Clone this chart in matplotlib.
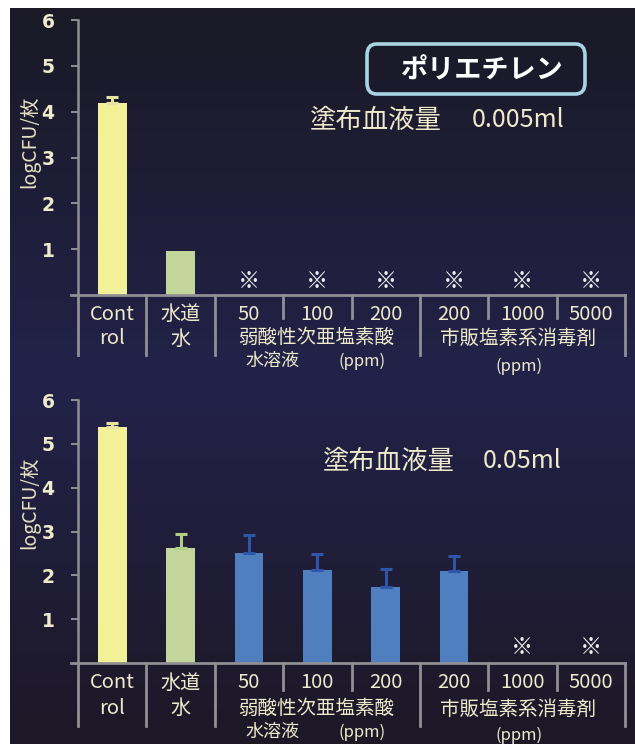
import numpy as np
import matplotlib
matplotlib.use('Agg')
import matplotlib.pyplot as plt
from matplotlib.transforms import blended_transform_factory
from matplotlib.patches import FancyBboxPatch

plt.rcParams['font.family'] = ['Noto Sans CJK JP', 'DejaVu Sans']

# ---------------- data ----------------
categories = ["Control", "水道水", "50", "100", "200", "200", "1000", "5000"]
tick_lines = [["Cont", "rol"], ["水道", "水"], ["50"], ["100"], ["200"], ["200"], ["1000"], ["5000"]]
group1_lines = ["弱酸性次亜塩素酸", "水溶液", "(ppm)"]
group2_lines = ["市販塩素系消毒剤", "(ppm)"]
material = "ポリエチレン"
vol_label = "塗布血液量"
top_volume = "0.005ml"
bottom_volume = "0.05ml"
y_label = "logCFU/枚"
nd_mark = "※"

top_mean = [4.20, 0.95, np.nan, np.nan, np.nan, np.nan, np.nan, np.nan]
top_err = [0.13, 0.0, np.nan, np.nan, np.nan, np.nan, np.nan, np.nan]
bottom_mean = [5.38, 2.63, 2.51, 2.12, 1.74, 2.10, np.nan, np.nan]
bottom_err = [0.09, 0.32, 0.41, 0.37, 0.41, 0.34, np.nan, np.nan]

bar_colors = ["#f3f197", "#c3d59b", "#4f7fbe", "#4f7fbe", "#4f7fbe", "#4f7fbe", "#4f7fbe", "#4f7fbe"]
err_colors = ["#e6e4a0", "#b3cd85", "#2f55a8", "#2f55a8", "#2f55a8", "#2f55a8", "#2f55a8", "#2f55a8"]

TXT = "#eeebcc"
GRAY = "#8f8f94"

W, H = 635, 744
fig = plt.figure(figsize=(W / 100, H / 100), dpi=100)
fig.patch.set_facecolor("white")

# background gradient (dark -> navy -> dark)
bg = fig.add_axes([10 / W, 0, 1 - 10 / W, 1 - 8 / H])
bg.set_axis_off()
py = np.arange(8, H)
stops_y = [8, 380, H]
c_top = np.array([26, 25, 37]); c_mid = np.array([35, 34, 74]); c_bot = np.array([29, 24, 38])
cols = np.zeros((len(py), 3))
for k in range(3):
    cols[:, k] = np.interp(py, stops_y, [c_top[k], c_mid[k], c_bot[k]])
img = np.repeat(cols[:, None, :], 4, axis=1) / 255.0
bg.imshow(img, aspect='auto', extent=[0, 1, 0, 1], interpolation='bilinear')
bg.set_xlim(0, 1); bg.set_ylim(0, 1)


def fy(p):
    return 1 - p / H


sep_short_pos = [2.5, 3.5, 5.5, 6.5]


def draw_panel(y6, y0, mean, err, label_row, sep_short, sep_long, nd_py, ylab_cy):
    ax = fig.add_axes([78 / W, fy(y0), 547 / W, (y0 - y6) / H])
    ax.set_facecolor("none")
    ax.set_xlim(-0.5, 7.5)
    ax.set_ylim(0, 6)
    x = np.arange(len(categories))
    vals = np.nan_to_num(np.array(mean, float))
    ax.bar(x, vals, width=0.42, color=bar_colors, edgecolor="none", zorder=3)
    for i, (m, e) in enumerate(zip(mean, err)):
        if np.isfinite(m) and np.isfinite(e) and e > 0:
            ax.errorbar(i, m, yerr=[[0], [e]], fmt='none', ecolor=err_colors[i],
                        elinewidth=2.2, capsize=4, capthick=2.2, zorder=4)
    for sp in ["top", "right", "bottom"]:
        ax.spines[sp].set_visible(False)
    ax.spines["left"].set_color(GRAY)
    ax.spines["left"].set_linewidth(1.8)
    ax.set_xticks([])
    ax.set_yticks([1, 2, 3, 4, 5, 6])
    ax.tick_params(axis='y', colors=GRAY, length=5, width=1.4, pad=12)
    for t in ax.get_yticklabels():
        t.set_color(TXT); t.set_fontsize(13.5); t.set_fontweight('bold')
        t.set_family(['DejaVu Sans'])

    tr = blended_transform_factory(ax.transData, fig.transFigure)
    ax.plot([-0.5 - 7 / 68.4, 7.5], [fy(y0)] * 2, color=GRAY, lw=2.0, transform=tr, clip_on=False, zorder=5)
    for b in [-0.5, 0.5, 1.5, 2.5, 3.5, 4.5, 5.5, 6.5, 7.5]:
        end = sep_short if b in sep_short_pos else sep_long
        ax.plot([b, b], [fy(y0), fy(end)], color=GRAY, lw=2.0, transform=tr, clip_on=False)

    for i, lines in enumerate(tick_lines):
        for j, s in enumerate(lines):
            ax.text(i, fy(label_row + j * 25), s, transform=tr, ha='center', va='center',
                    color=TXT, fontsize=14.5)
    for i, m in enumerate(mean):
        if not np.isfinite(m):
            ax.text(i, fy(nd_py), nd_mark, transform=tr, ha='center', va='center',
                    color="#ececec", fontsize=16)
    fig.text(30 / W, fy(ylab_cy), y_label, rotation=90, ha='center', va='center',
             color="#e6e2c4", fontsize=14)
    return ax, tr


def group_labels(ax, tr, r1, r2, r2b):
    ax.text(2.98, fy(r1), group1_lines[0], transform=tr, ha='center', va='center', color=TXT, fontsize=14)
    ax.text(2.35, fy(r2), group1_lines[1], transform=tr, ha='center', va='center', color=TXT, fontsize=13)
    ax.text(3.65, fy(r2), group1_lines[2], transform=tr, ha='center', va='center', color=TXT, fontsize=12)
    ax.text(5.93, fy(r1 + 1), group2_lines[0], transform=tr, ha='center', va='center', color=TXT, fontsize=14)
    ax.text(5.95, fy(r2b), group2_lines[1], transform=tr, ha='center', va='center', color=TXT, fontsize=12)


# ---------- top panel ----------
ax1, tr1 = draw_panel(20, 295, top_mean, top_err, 314, 318, 355, 282, 142)
group_labels(ax1, tr1, 337, 361, 366)

box = FancyBboxPatch((367 / W, fy(94)), 218 / W, 50 / H, boxstyle="round,pad=0,rounding_size=0.015",
                     transform=fig.transFigure, facecolor="none", edgecolor="#a8d5e3", linewidth=2.6)
fig.patches.append(box)
fig.text(482 / W, fy(70), material, ha='center', va='center', color="white", fontsize=19.5, fontweight='bold')
fig.text(310 / W, fy(120), vol_label, ha='left', va='center', color=TXT, fontsize=19)
fig.text(472 / W, fy(120), top_volume, ha='left', va='center', color=TXT, fontsize=18)

# ---------- bottom panel ----------
ax2, tr2 = draw_panel(400, 663, bottom_mean, bottom_err, 683, 690, 726, 647, 503)
group_labels(ax2, tr2, 708, 732, 735)

fig.text(323 / W, fy(461), vol_label, ha='left', va='center', color=TXT, fontsize=19)
fig.text(483 / W, fy(461), bottom_volume, ha='left', va='center', color=TXT, fontsize=18)

fig.savefig("out.png", dpi=100, facecolor=fig.get_facecolor())
